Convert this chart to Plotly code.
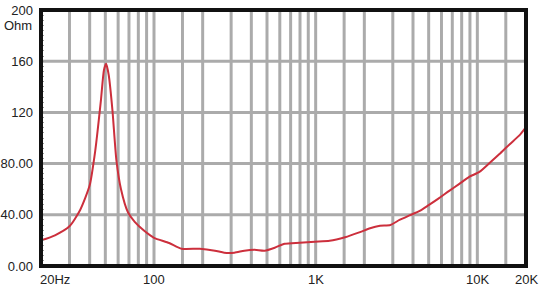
import plotly.graph_objects as go
import numpy as np

# Impedance curve (Hz, Ohm)
freq = [20, 24.4, 30, 35, 40, 43.3, 47, 49, 50.6, 52.5, 55.3, 58.5, 62.5, 69, 76, 87, 100, 124,
        148, 192, 238, 272, 314, 362, 418, 483, 558, 643, 797, 988, 1220, 1520, 1880, 2170,
        2500, 2900, 3300, 3800, 4400, 5000, 5800, 6700, 7700, 8900, 10300, 11900, 13700,
        15800, 18200, 20000]
ohm = [20, 24, 31, 44, 63, 90, 130, 153, 158, 149, 122, 83, 60, 42, 34.5, 27.5, 22, 18,
       13.5, 13.5, 12, 10.4, 10.4, 12, 12.7, 12, 14.3, 17.4, 18.2, 19, 19.7, 22.5, 26.5, 29.5,
       31.4, 32, 36, 39.5, 43, 47.5, 53, 58.7, 64, 69.6, 73.5, 80.5, 87.5, 95, 102, 108.5]

grid_freqs = [30, 40, 50, 60, 70, 80, 90, 100, 150, 200, 300, 400, 500, 600, 700, 800, 900,
              1000, 1500, 2000, 3000, 4000, 5000, 6000, 7000, 8000, 9000, 10000, 15000]
y_ticks = [0, 40, 80, 120, 160, 200]
y_labels = ["0.00", "40.00", "80.00", "120", "160", "200"]
x_label_vals = [20, 100, 1000, 10000, 20000]
x_label_text = ["20Hz", "100", "1K", "10K", "20K"]
x_label_anchor = ["left", "center", "center", "center", "center"]

GRID = "#ababab"
FONT = dict(family="Liberation Sans, Arial", size=13, color="#222222")
fig = go.Figure()

for f in grid_freqs:
    fig.add_shape(type="line", xref="x", yref="paper", x0=f, x1=f, y0=0, y1=1,
                  line=dict(color=GRID, width=3), layer="below")
for v in y_ticks[1:-1]:
    fig.add_shape(type="line", xref="paper", yref="y", x0=0, x1=1, y0=v, y1=v,
                  line=dict(color=GRID, width=3), layer="below")

fig.add_trace(go.Scatter(x=freq, y=ohm, mode="lines",
                         line=dict(color="#cc2f3c", width=2, shape="spline", smoothing=0.6),
                         hoverinfo="skip"))

# frame
fig.add_shape(type="rect", xref="paper", yref="paper", x0=0, x1=1, y0=0, y1=1,
              line=dict(color="#111111", width=4))

for v, t, a in zip(x_label_vals, x_label_text, x_label_anchor):
    fig.add_annotation(x=np.log10(v), y=0, xref="x", yref="paper", yanchor="top", yshift=-4,
                       text=t, showarrow=False, xanchor=a,
                       xshift=-3 if a == "left" else 0, font=FONT)

fig.add_annotation(x=0, y=200, xref="paper", yref="y", xshift=-7, yshift=-15,
                   text="Ohm", showarrow=False, xanchor="right", font=FONT)

fig.update_layout(
    width=544, height=286,
    margin=dict(l=41, r=18, t=10, b=20),
    paper_bgcolor="white", plot_bgcolor="white",
    showlegend=False,
    xaxis=dict(type="log", range=[np.log10(20), np.log10(20000)], showgrid=False,
               showticklabels=False, zeroline=False, ticks="", automargin=False),
    yaxis=dict(range=[0, 200], tickvals=y_ticks, ticktext=y_labels, showgrid=False,
               zeroline=False, ticks="", ticklabelstandoff=7, tickfont=FONT, automargin=False,
               minor=dict(ticks="inside", ticklen=3, tickcolor="#999999", dtick=4, showgrid=False)),
)

fig.write_html("out.html")
